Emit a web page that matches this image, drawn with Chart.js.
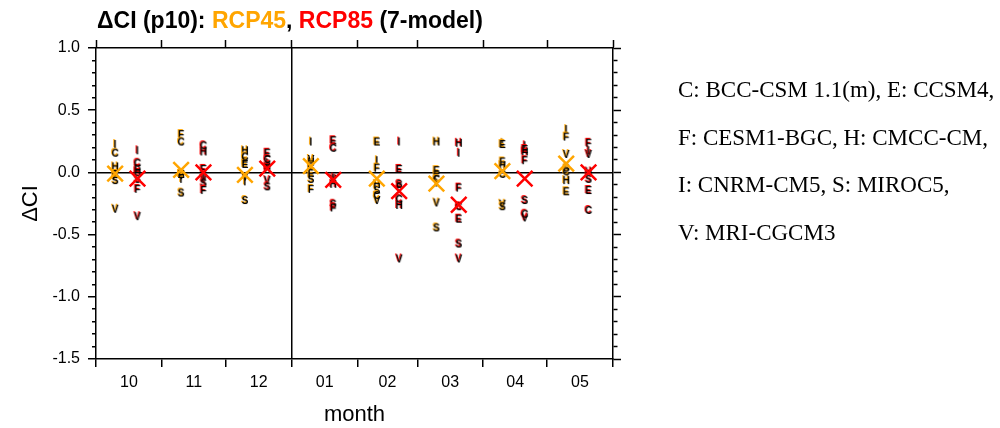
<!DOCTYPE html>
<html>
<head>
<meta charset="utf-8">
<script src="https://cdn.jsdelivr.net/npm/chart.js@4.4.1/dist/chart.umd.min.js"></script>
<style>
  body { margin: 0; background: #fff; }
  #wrap { position: relative; width: 1000px; height: 428px; }
  #title { position: absolute; left: 97px; top: 7px; font: bold 23px "Liberation Sans", Arial, sans-serif; white-space: nowrap; }
  .leg { position: absolute; left: 678px; font: 23px "Liberation Serif", "Times New Roman", serif; white-space: nowrap; line-height: 24px; }
</style>
</head>
<body>
<div id="wrap">
  <canvas id="chart" width="1000" height="428"></canvas>
  <div id="title">&Delta;CI (p10): <span style="color:#FFA500">RCP45</span>, <span style="color:#FF0000">RCP85</span> (7-model)</div>
</div>
<script>
// --- data ---
const months = ['10', '11', '12', '01', '02', '03', '04', '05'];
const monthDays = [31, 30, 31, 31, 28, 31, 30, 31];
const models = ['C', 'E', 'F', 'H', 'I', 'S', 'V'];

// RCP45 per model (months 10..05)
const rcp45C = [0.15, 0.24, 0.12, 0.04, -0.19, -0.06, -0.02, 0.00];
const rcp45E = [-0.02, -0.02, 0.06, -0.01, 0.24, 0.01, 0.22, -0.16];
const rcp45F = [-0.03, 0.30, 0.08, -0.14, 0.03, -0.03, 0.08, 0.28];
const rcp45H = [0.04, -0.02, 0.17, 0.08, -0.10, 0.24, 0.05, -0.07];
const rcp45I = [0.22, -0.06, -0.08, 0.24, 0.09, -0.09, 0.23, 0.34];
const rcp45S = [-0.07, -0.17, -0.23, -0.06, -0.15, -0.45, -0.28, 0.03];
const rcp45V = [-0.30, -0.03, -0.04, 0.10, -0.23, -0.25, -0.26, 0.14];

// RCP85 per model
const rcp85C = [0.07, 0.21, 0.10, 0.19, -0.22, -0.28, -0.34, -0.31];
const rcp85E = [0.02, 0.02, 0.15, 0.25, 0.02, -0.38, 0.18, -0.15];
const rcp85F = [-0.14, -0.15, 0.03, -0.29, -0.12, -0.13, 0.09, 0.23];
const rcp85H = [0.00, 0.16, 0.04, -0.10, -0.27, 0.23, 0.16, 0.00];
const rcp85I = [0.17, -0.03, 0.07, -0.05, 0.24, 0.15, 0.21, 0.17];
const rcp85S = [-0.06, -0.09, -0.12, -0.26, -0.10, -0.58, -0.23, -0.06];
const rcp85V = [-0.36, -0.06, -0.07, -0.06, -0.70, -0.70, -0.37, 0.14];

// 7-model means (the X marks)
const mean45 = [-0.01, 0.02, -0.02, 0.05, -0.05, -0.09, 0.01, 0.07];
const mean85 = [-0.05, 0.00, 0.03, -0.06, -0.15, -0.26, -0.05, 0.00];

const yTicks = [-1.5, -1.0, -0.5, 0.0, 0.5, 1.0];

const legendLines = [
  'C: BCC-CSM 1.1(m), E: CCSM4,',
  'F: CESM1-BGC, H: CMCC-CM,',
  'I: CNRM-CM5, S: MIROC5,',
  'V: MRI-CGCM3'
];

// --- layout helpers ---
const ORANGE = '#FFA500';
const RED = '#FF0000';
const OFF45 = 9;     // day within month for RCP45 column
const OFF85 = 19.5;  // day within month for RCP85 column

const monthStart = [];
let acc = 0;
monthDays.forEach(d => { monthStart.push(acc); acc += d; });
const totalDays = acc;
const bounds = monthStart.concat([totalDays]);
const mids = monthStart.map((s, i) => s + monthDays[i] / 2);
const splitDay = monthStart[3]; // between 12 and 01

const rcp45 = { C: rcp45C, E: rcp45E, F: rcp45F, H: rcp45H, I: rcp45I, S: rcp45S, V: rcp45V };
const rcp85 = { C: rcp85C, E: rcp85E, F: rcp85F, H: rcp85H, I: rcp85I, S: rcp85S, V: rcp85V };

function letterImage(ch, color) {
  const c = document.createElement('canvas');
  c.width = 14;
  c.height = 14;
  const g = c.getContext('2d');
  g.font = 'bold 10px "Liberation Sans", Arial, sans-serif';
  g.textAlign = 'center';
  g.textBaseline = 'middle';
  g.fillStyle = color;
  g.fillText(ch, 6, 6);
  g.fillStyle = '#000';
  g.fillText(ch, 7, 7);
  return c;
}

function toPoints(vals, off) {
  return vals.map((v, i) => ({ x: monthStart[i] + off, y: v }));
}

const datasets = [
  {
    label: 'RCP45 mean', data: toPoints(mean45, OFF45), order: 0,
    pointStyle: 'crossRot', radius: 11, borderWidth: 2.5, borderColor: ORANGE, backgroundColor: ORANGE
  },
  {
    label: 'RCP85 mean', data: toPoints(mean85, OFF85), order: 0,
    pointStyle: 'crossRot', radius: 11, borderWidth: 2.5, borderColor: RED, backgroundColor: RED
  }
];
models.forEach(m => {
  datasets.push({ label: '45 ' + m, data: toPoints(rcp45[m], OFF45), order: 1, pointStyle: letterImage(m, ORANGE) });
  datasets.push({ label: '85 ' + m, data: toPoints(rcp85[m], OFF85), order: 1, pointStyle: letterImage(m, RED) });
});

const isMajor = v => Math.abs(v * 2 - Math.round(v * 2)) < 1e-6;
const isBound = v => bounds.some(b => Math.abs(b - v) < 1e-6);
const CLEAR = 'rgba(0,0,0,0)';
const tickFont = { family: '"Liberation Sans", Arial, sans-serif', size: 16 };
const border = { display: true, color: '#000', width: 1.5 };

function setXTicks(scale) {
  scale.ticks = bounds.concat(mids).sort((a, b) => a - b).map(v => ({ value: v }));
}
function setYTicks(scale) {
  const t = [];
  for (let k = -15; k <= 10; k++) t.push({ value: k / 10 });
  scale.ticks = t;
}

new Chart(document.getElementById('chart'), {
  type: 'scatter',
  data: { datasets },
  options: {
    responsive: false,
    animation: false,
    events: [],
    layout: { padding: { top: 40, right: 379, bottom: 0, left: 0 } },
    plugins: { legend: { display: false }, tooltip: { enabled: false } },
    scales: {
      x: {
        type: 'linear', position: 'bottom', min: 0, max: totalDays,
        afterBuildTicks: setXTicks,
        afterFit: s => { s.height = 69; },
        border,
        grid: {
          drawOnChartArea: true, tickLength: 8, lineWidth: 1.5, tickWidth: 1.5,
          color: ctx => (ctx.tick && Math.abs(ctx.tick.value - splitDay) < 1e-6) ? '#000' : CLEAR,
          tickColor: ctx => (ctx.tick && isBound(ctx.tick.value)) ? '#000' : CLEAR
        },
        ticks: {
          autoSkip: false, maxRotation: 0, padding: 6, color: '#000', font: tickFont,
          callback: v => {
            const i = mids.findIndex(m => Math.abs(m - v) < 1e-6);
            return i >= 0 ? months[i] : '';
          }
        },
        title: { display: true, text: 'month', color: '#000', font: { family: tickFont.family, size: 22 }, padding: { top: 0, bottom: 0 } }
      },
      xTop: {
        type: 'linear', position: 'top', min: 0, max: totalDays,
        afterBuildTicks: s => { s.ticks = bounds.map(v => ({ value: v })); },
        afterFit: s => { s.height = 8; },
        border,
        grid: { drawOnChartArea: false, tickLength: 8, tickWidth: 1.5, tickColor: '#000' },
        ticks: { display: false }
      },
      y: {
        type: 'linear', position: 'left', min: -1.5, max: 1.0,
        afterBuildTicks: setYTicks,
        afterFit: s => { s.width = 96; },
        border,
        grid: {
          drawOnChartArea: true, tickLength: 8, lineWidth: 1.5, tickWidth: 1.5,
          color: ctx => (ctx.tick && Math.abs(ctx.tick.value) < 1e-6) ? '#000' : CLEAR,
          tickColor: '#000',
          tickBorderDash: ctx => (ctx.tick && isMajor(ctx.tick.value)) ? [] : [0, 4, 4, 20]
        },
        ticks: {
          autoSkip: false, padding: 8, color: '#000', font: tickFont,
          callback: v => (yTicks.some(t => Math.abs(t - v) < 1e-6) ? v.toFixed(1) : '')
        },
        title: { display: true, text: '\u0394CI', color: '#000', font: { family: tickFont.family, size: 22 }, padding: { top: 18, bottom: 0 } }
      },
      yRight: {
        type: 'linear', position: 'right', min: -1.5, max: 1.0,
        afterBuildTicks: setYTicks,
        afterFit: s => { s.width = 8; },
        border,
        grid: {
          drawOnChartArea: false, tickLength: 8, tickWidth: 1.5, tickColor: '#000',
          tickBorderDash: ctx => (ctx.tick && isMajor(ctx.tick.value)) ? [] : [4, 20]
        },
        ticks: { display: false }
      }
    }
  }
});

// --- model key on the right ---
const wrap = document.getElementById('wrap');
legendLines.forEach((txt, i) => {
  const d = document.createElement('div');
  d.className = 'leg';
  d.style.top = (78 + i * 47.5) + 'px';
  d.textContent = txt;
  wrap.appendChild(d);
});
</script>
</body>
</html>
